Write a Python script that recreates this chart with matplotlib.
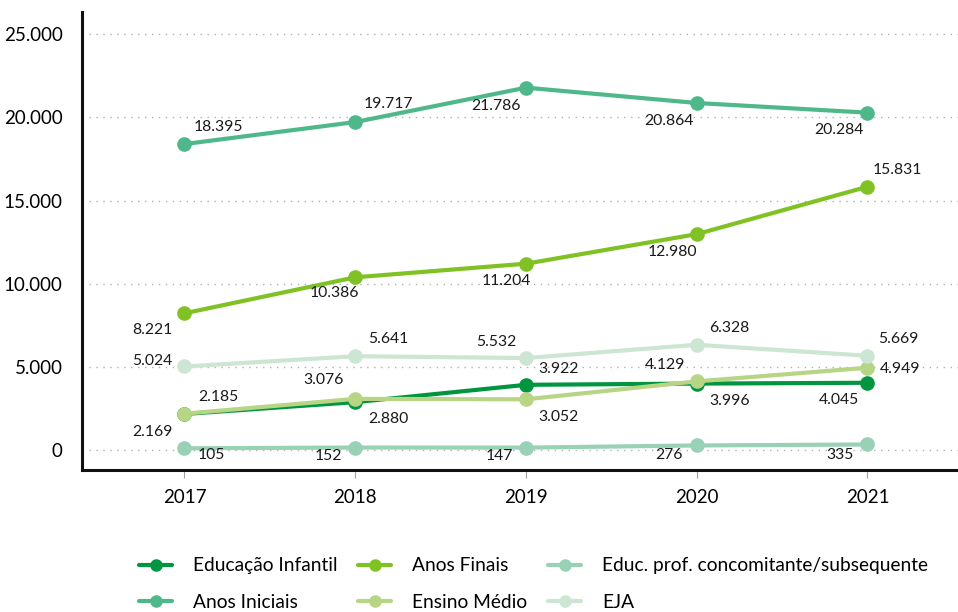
import matplotlib.pyplot as plt
from matplotlib.ticker import FuncFormatter

plt.rcParams['font.family'] = ['Lato', 'DejaVu Sans']

# data
anos = [2017, 2018, 2019, 2020, 2021]
series_names = ['Educação Infantil', 'Anos Iniciais', 'Anos Finais',
                'Ensino Médio', 'Educ. prof. concomitante/subsequente', 'EJA']
educ_infantil = [2169, 2880, 3922, 3996, 4045]
anos_iniciais = [18395, 19717, 21786, 20864, 20284]
anos_finais = [8221, 10386, 11204, 12980, 15831]
ensino_medio = [2185, 3076, 3052, 4129, 4949]
educ_prof = [105, 152, 147, 276, 335]
eja = [5024, 5641, 5532, 6328, 5669]
y_ticks = [0, 5000, 10000, 15000, 20000, 25000]

series = [educ_infantil, anos_iniciais, anos_finais, ensino_medio, educ_prof, eja]
colors = ['#00963f', '#4fb88b', '#80c224', '#b7d585', '#98d1b5', '#cde5d3']

# label offsets in pixels (dx, dy) for each point
offsets = [
    [(-32, -18), (33, -17), (33, 16), (33, -17), (-29, -17)],
    [(34, 17), (33, 18), (-30, -18), (-28, -18), (-29, -17)],
    [(-32, -17), (-21, -16), (-20, -17), (-24, -18), (30, 17)],
    [(34, 17), (-32, 19), (32, -18), (-32, 16), (33, -1)],
    [(27, -7), (-27, -8), (-27, -8), (-28, -10), (-27, -11)],
    [(-32, 5), (33, 17), (-30, 16), (33, 17), (31, 17)],
]

def fmt(v):
    return f'{v:,.0f}'.replace(',', '.')

fig = plt.figure(figsize=(9.58, 6.12), dpi=100)
ax = fig.add_axes([0.0856, 0.232, 0.9144, 0.748])

for name, vals, c, offs in zip(series_names, series, colors, offsets):
    ax.plot(anos, vals, color=c, lw=3, marker='o', ms=9.5, label=name,
            solid_capstyle='round')
    for x, y, (dx, dy) in zip(anos, vals, offs):
        ax.annotate(fmt(y), (x, y), xytext=(dx, dy), textcoords='offset pixels',
                    ha='center', va='center', fontsize=11.3, color='#1a1a1a')

ax.set_xlim(2016.4, 2021.53)
ax.set_ylim(-1200, 26320)
ax.set_xticks(anos)
ax.set_yticks(y_ticks)
ax.yaxis.set_major_formatter(FuncFormatter(lambda v, p: fmt(v)))
ax.grid(axis='y', color='#b0b0b0', ls=(0, (1, 4)), lw=1)
ax.set_axisbelow(True)

for s in ['top', 'right']:
    ax.spines[s].set_visible(False)
for s in ['left', 'bottom']:
    ax.spines[s].set_linewidth(2.2)
    ax.spines[s].set_color('#111111')

ax.tick_params(axis='y', length=0, pad=14, labelsize=13.5)
ax.tick_params(axis='x', length=6, width=0.8, color='#a0a0a0', pad=8, labelsize=13.5)

handles, labels = ax.get_legend_handles_labels()
leg = fig.legend(handles, labels, loc='lower center', bbox_to_anchor=(0.557, -0.026),
                 ncol=3, frameon=False, fontsize=13.8, handlelength=1.7,
                 columnspacing=1.1, labelspacing=1.0, handletextpad=1.1)
for h in leg.legend_handles:
    h.set_markersize(8)

fig.savefig('out.png', dpi=100)
